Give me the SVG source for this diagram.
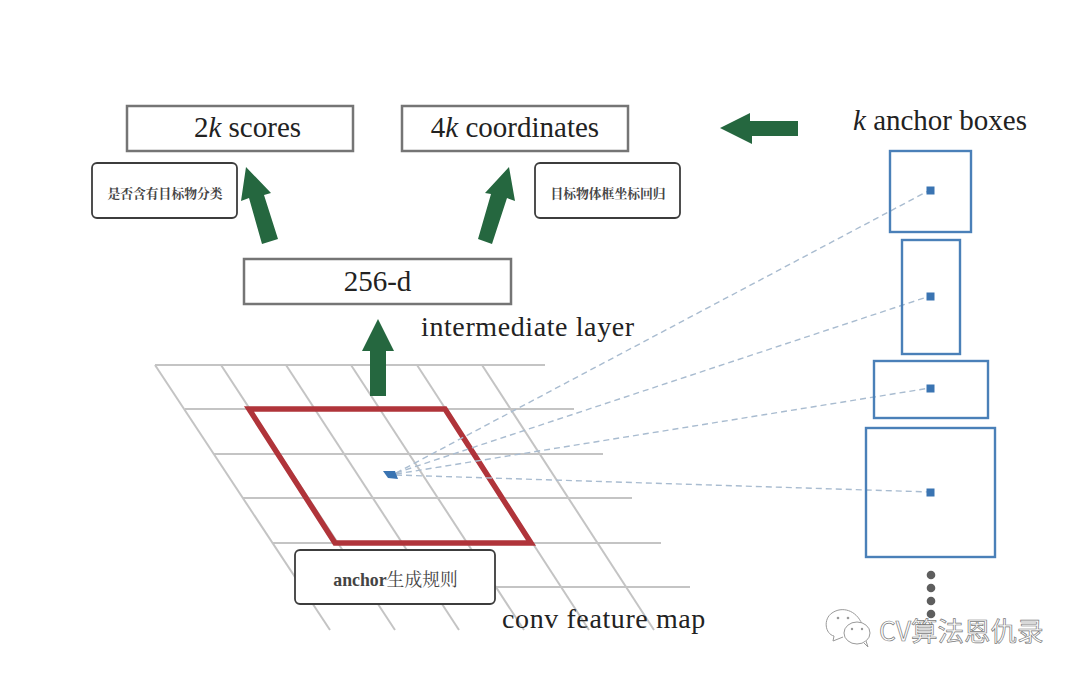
<svg xmlns="http://www.w3.org/2000/svg" width="1080" height="679" viewBox="0 0 1080 679">
<style>
.bx{fill:#fff;stroke:#757575;stroke-width:2.5}
.nt{fill:#fff;stroke:#3c3c3c;stroke-width:1.8}
.t{font-family:"Liberation Serif","Noto Sans CJK SC",serif;fill:#222}
.big{font-size:29px;text-anchor:middle}
.cjk{font-family:"Liberation Serif","Noto Serif CJK SC","Noto Sans CJK SC",serif;fill:#444;font-size:12.8px;text-anchor:middle;font-weight:700}
.arrow{fill:#25673f}
.grid line{stroke:#c4c4c4;stroke-width:2}
.anc{fill:none;stroke:#4a80b8;stroke-width:2.4}
.dot{fill:#3a74b2}
.dash{fill:none;stroke:#a9bcd0;stroke-width:1.4;stroke-dasharray:6 4}
.more{fill:#5e5e5e}
</style>
<rect width="1080" height="679" fill="#fff"/>
<g id="feature-map" class="grid">
<line x1="155" y1="365" x2="545" y2="365"/><line x1="185" y1="409" x2="574" y2="409"/><line x1="214" y1="454" x2="603" y2="454"/><line x1="243" y1="498" x2="632" y2="498"/><line x1="273" y1="543" x2="661" y2="543"/><line x1="302" y1="587" x2="690" y2="587"/>
<line x1="155" y1="365" x2="330" y2="630"/><line x1="221" y1="365" x2="395" y2="630"/><line x1="286" y1="365" x2="459" y2="630"/><line x1="351" y1="365" x2="524" y2="630"/><line x1="417" y1="365" x2="589" y2="630"/><line x1="482" y1="365" x2="654" y2="630"/>
</g>
<g id="sliding-window"><polygon points="249,409 445,409 531,543 335,543" fill="none" stroke="#b0343a" stroke-width="5.5"/></g>
<g id="connectors">
<path class="dash" d="M396 473L930 190"/><path class="dash" d="M396 473L930 296"/><path class="dash" d="M396 474L930 388"/><path class="dash" d="M396 475L930 492"/>
<polygon class="arrow" points="370,396 370,351 362,351 378,319 394,351 386,351 386,396"/>
<polygon class="arrow" points="262,244 249,198 241,201 246,167 271,193 264,195 278,239"/>
<polygon class="arrow" points="478,239 491,194 485,193 509,167 515,201 507,198 492,244"/>
<polygon class="arrow" points="798,136 752,136 752,144 720,128 750,113 750,121 798,121"/>
</g>
<g id="center-point"><polygon class="dot" points="383,471 395,471 398,479 388,478"/></g>
<g id="node-2k"><rect class="bx" x="127" y="106" width="226" height="45"/><text class="t big" x="247.500" y="137">2<tspan font-style="italic">k</tspan> scores</text></g>
<g id="node-4k"><rect class="bx" x="402" y="106" width="226" height="45"/><text class="t big" x="515" y="137">4<tspan font-style="italic">k</tspan> coordinates</text></g>
<g id="node-256"><rect class="bx" x="244" y="259" width="267" height="45"/><text class="t big" x="377.500" y="291">256-d</text></g>
<g id="note-cls"><rect class="nt" x="92" y="163" width="145" height="55" rx="5"/><text class="cjk" x="165" y="198">是否含有目标物分类</text></g>
<g id="note-reg"><rect class="nt" x="535" y="163" width="145" height="55" rx="5"/><text class="cjk" x="608" y="198">目标物体框坐标回归</text></g>
<g id="note-anchor"><rect class="nt" x="295" y="550" width="200" height="54" rx="5"/><text class="cjk" style="font-size:17.800px" x="395.500" y="586">anchor<tspan font-weight="400">生成规则</tspan></text></g>
<text class="t" font-size="28" x="421" y="336" letter-spacing=".6">intermediate layer</text>
<text class="t" font-size="28" x="502" y="628" letter-spacing=".6">conv feature map</text>
<text class="t" font-size="29" x="853" y="130"><tspan font-style="italic">k</tspan> anchor boxes</text>
<g id="anchor-1"><rect class="anc" x="890" y="151" width="81" height="81"/><rect class="dot" x="926.500" y="186.500" width="8" height="8"/></g>
<g id="anchor-2"><rect class="anc" x="902" y="240" width="58" height="114"/><rect class="dot" x="926.500" y="292.500" width="8" height="8"/></g>
<g id="anchor-3"><rect class="anc" x="874" y="361" width="114" height="57"/><rect class="dot" x="926.500" y="384.500" width="8" height="8"/></g>
<g id="anchor-4"><rect class="anc" x="866" y="428" width="129" height="129"/><rect class="dot" x="926.500" y="488.500" width="8" height="8"/></g>
<g id="more"><circle class="more" cx="931" cy="575" r="4.300"/><circle class="more" cx="931" cy="588" r="4.300"/><circle class="more" cx="931" cy="601" r="4.300"/><circle class="more" cx="931" cy="614" r="4.300"/></g>
<g id="watermark">
<path d="M862 624 C856 610 842 606 832 613 C823 619 825 634 834 636 L833 641 L843 637" fill="#fff" fill-opacity=".85" stroke="#9a9a9a" stroke-width="1"/>
<ellipse cx="857" cy="633" rx="13" ry="11" fill="#fff" stroke="#9a9a9a" stroke-width="1"/>
<path d="M864 643L868 647L866 641" fill="#fff" stroke="#9a9a9a"/>
<circle cx="838" cy="618" r="1.300" fill="#999"/><circle cx="848" cy="618" r="1.300" fill="#999"/><circle cx="852" cy="629" r="1.200" fill="#999"/><circle cx="862" cy="629" r="1.200" fill="#999"/>
<text x="879" y="641" font-size="26.500" font-family="'Noto Sans CJK SC','Noto Sans',sans-serif" fill="#fff" stroke="#7a7a7a" stroke-width=".7">CV算法恩仇录</text>
</g>
</svg>
